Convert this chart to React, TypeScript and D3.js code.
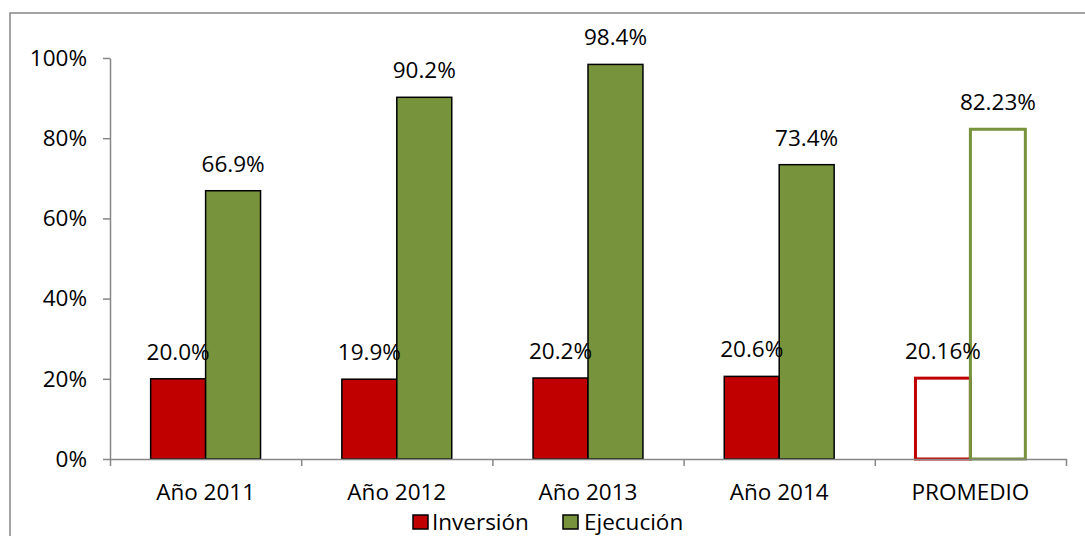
import { useEffect, useRef } from "react";
import { axisBottom, axisLeft, scaleBand, scaleLinear, select } from "d3";

const categories = ["Año 2011", "Año 2012", "Año 2013", "Año 2014", "PROMEDIO"];
const inversion = [20.0, 19.9, 20.2, 20.6, 20.16];
const ejecucion = [66.9, 90.2, 98.4, 73.4, 82.23];
const inversionLabels = ["20.0%", "19.9%", "20.2%", "20.6%", "20.16%"];
const ejecucionLabels = ["66.9%", "90.2%", "98.4%", "73.4%", "82.23%"];
const yTicks = [0, 20, 40, 60, 80, 100];
const series = ["Inversión", "Ejecución"];

const width = 1085;
const height = 536;
const left = 110;
const right = 1066;
const top = 58;
const bottom = 459;

const RED = "#C00000";
const GREEN = "#77933C";
const AXIS = "#868686";
const FONT = "'Open Sans', sans-serif";
const FS = 22.5;

function App() {
  const yRef = useRef<SVGGElement>(null);
  const xRef = useRef<SVGGElement>(null);

  const x = scaleBand().domain(categories).range([left, right]);
  const xs = scaleBand()
    .domain(series)
    .range([0, x.bandwidth()])
    .paddingInner(0)
    .paddingOuter(0.74);
  const y = scaleLinear().domain([0, 100]).range([bottom, top]);
  const xEdges = scaleLinear().domain([0, categories.length]).range([left, right]);

  useEffect(() => {
    const gy = select(yRef.current);
    gy.selectAll("*").remove();
    axisLeft(y)
      .tickValues(yTicks)
      .tickSize(7)
      .tickSizeOuter(0)
      .tickPadding(16)
      .tickFormat((d) => `${d}%`)(gy as any);
    gy.selectAll("path, line").attr("stroke", AXIS).attr("stroke-width", 1.5);
    gy.selectAll("text")
      .attr("fill", "#000")
      .style("font-family", FONT)
      .style("font-size", `${FS}px`);

    const gx = select(xRef.current);
    gx.selectAll("*").remove();
    axisBottom(xEdges)
      .tickValues(categories.map((_, i) => i).concat([categories.length]))
      .tickSize(7)
      .tickSizeOuter(0)
      .tickFormat(() => "")(gx as any);
    gx.selectAll("path, line").attr("stroke", AXIS).attr("stroke-width", 1.5);
  }, []);

  const last = categories.length - 1;

  return (
    <svg
      width={width}
      height={height}
      style={{ position: "absolute", left: 0, top: 0, background: "#fff" }}
      fontFamily={FONT}
    >
      <rect x={10} y={13} width={width + 20} height={height + 20} fill="#fff" stroke={AXIS} strokeWidth={1.5} />

      {categories.map((c, i) => {
        const hollow = i === last;
        const xi = (x(c) ?? 0) + (xs("Inversión") ?? 0);
        const xe = (x(c) ?? 0) + (xs("Ejecución") ?? 0);
        const bw = xs.bandwidth();
        return (
          <g key={c}>
            <rect
              x={xi}
              y={y(inversion[i])}
              width={bw}
              height={bottom - y(inversion[i])}
              fill={hollow ? "none" : RED}
              stroke={hollow ? RED : "#000"}
              strokeWidth={hollow ? 3 : 1.5}
            />
            <rect
              x={xe}
              y={y(ejecucion[i])}
              width={bw}
              height={bottom - y(ejecucion[i])}
              fill={hollow ? "none" : GREEN}
              stroke={hollow ? GREEN : "#000"}
              strokeWidth={hollow ? 3 : 1.5}
            />
            <text x={xi + bw / 2} y={y(inversion[i]) - 19} textAnchor="middle" fontSize={FS}>
              {inversionLabels[i]}
            </text>
            <text x={xe + bw / 2} y={y(ejecucion[i]) - 19} textAnchor="middle" fontSize={FS}>
              {ejecucionLabels[i]}
            </text>
            <text x={(x(c) ?? 0) + x.bandwidth() / 2} y={500} textAnchor="middle" fontSize={FS}>
              {c}
            </text>
          </g>
        );
      })}

      <g ref={xRef} transform={`translate(0,${bottom})`} />
      <g ref={yRef} transform={`translate(${left},0)`} />

      <g transform="translate(413,515)">
        <rect x={0} y={0} width={15} height={14} fill={RED} stroke="#000" strokeWidth={1.5} />
        <text x={19} y={15} fontSize={FS}>{series[0]}</text>
        <rect x={150} y={0} width={15} height={14} fill={GREEN} stroke="#000" strokeWidth={1.5} />
        <text x={171} y={15} fontSize={FS}>{series[1]}</text>
      </g>
    </svg>
  );
}

export default App;
